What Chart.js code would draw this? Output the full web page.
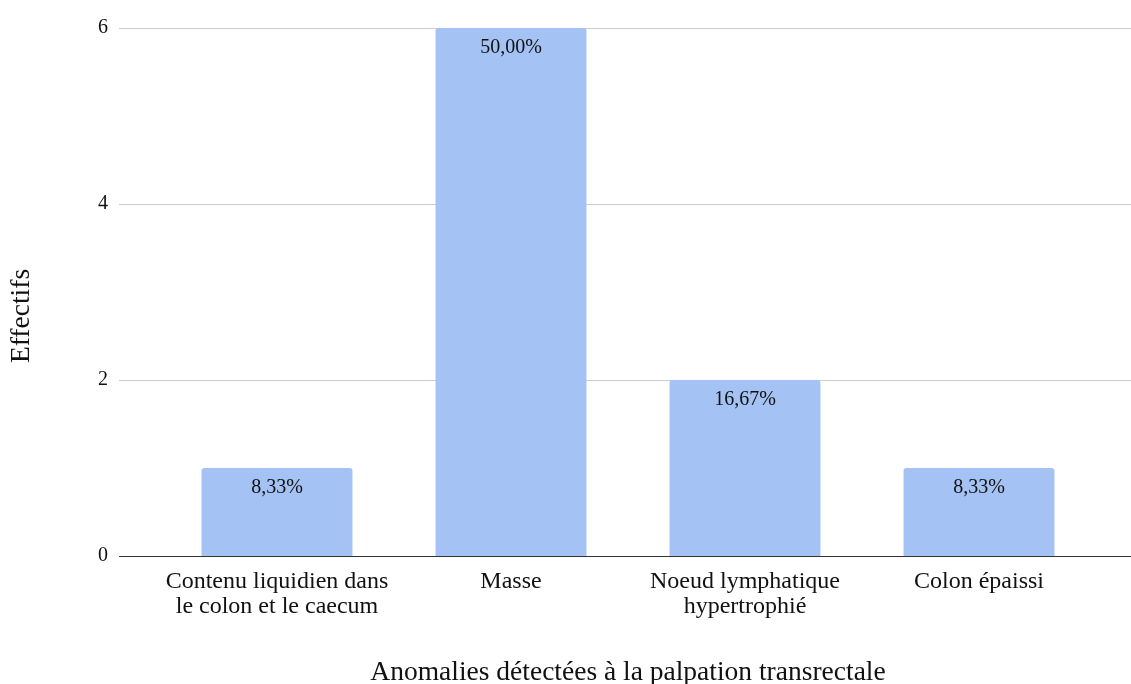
<!DOCTYPE html>
<html>
<head>
<meta charset="utf-8">
<script src="https://cdn.jsdelivr.net/npm/chart.js@4/dist/chart.umd.min.js"></script>
<style>
  html, body { margin: 0; padding: 0; background: #fff; }
  #wrap { width: 1131px; height: 684px; position: relative; }
</style>
</head>
<body>
<div id="wrap"><canvas id="c"></canvas></div>
<script>
// Anomalies found on transrectal palpation (counts and share of animals examined)
const categories = [
  ['Contenu liquidien dans', 'le colon et le caecum'],
  'Masse',
  ['Noeud lymphatique', 'hypertrophié'],
  'Colon épaissi'
];
const effectifs = [1, 6, 2, 1];
const pourcentages = [8.33, 50.00, 16.67, 8.33];
const yTicks = [0, 2, 4, 6];
const yTitle = 'Effectifs';
const xTitle = 'Anomalies détectées à la palpation transrectale';

const pctLabel = p => p.toFixed(2).replace('.', ',') + '%';

const FONT = '"Liberation Serif", "Times New Roman", serif';
const GRID = '#cccccc';
const AXIS = '#333333';
const GRID_LEFT = 119;

// Horizontal gridlines and baseline run past the plot area on both sides
const wideGrid = {
  id: 'wideGrid',
  beforeDatasetsDraw(chart) {
    const { ctx, scales: { y } } = chart;
    ctx.save();
    ctx.lineWidth = 1;
    yTicks.forEach(t => {
      if (t === 0) return;
      const py = Math.round(y.getPixelForValue(t)) + 0.5;
      ctx.beginPath();
      ctx.strokeStyle = GRID;
      ctx.moveTo(GRID_LEFT, py);
      ctx.lineTo(chart.width, py);
      ctx.stroke();
    });
    ctx.restore();
  },
  afterDatasetsDraw(chart) {
    const { ctx, scales: { y } } = chart;
    const py = Math.round(y.getPixelForValue(0)) + 0.5;
    ctx.save();
    ctx.beginPath();
    ctx.strokeStyle = AXIS;
    ctx.lineWidth = 1;
    ctx.moveTo(GRID_LEFT, py);
    ctx.lineTo(chart.width, py);
    ctx.stroke();
    ctx.restore();
  }
};

// Percentage written inside the top of each bar
const barLabels = {
  id: 'barLabels',
  afterDatasetsDraw(chart) {
    const { ctx } = chart;
    const meta = chart.getDatasetMeta(0);
    ctx.save();
    ctx.font = '20px ' + FONT;
    ctx.fillStyle = '#111111';
    ctx.textAlign = 'center';
    ctx.textBaseline = 'alphabetic';
    meta.data.forEach((bar, i) => {
      ctx.fillText(pctLabel(pourcentages[i]), bar.x, bar.y + 25);
    });
    ctx.restore();
  }
};

// Vertical axis title, centred a little below the plot's middle
const sideTitle = {
  id: 'sideTitle',
  afterDraw(chart) {
    const { ctx } = chart;
    ctx.save();
    ctx.translate(22, 316);
    ctx.rotate(-Math.PI / 2);
    ctx.font = '27.5px ' + FONT;
    ctx.fillStyle = '#111111';
    ctx.textAlign = 'center';
    ctx.textBaseline = 'middle';
    ctx.fillText(yTitle, 0, 0);
    ctx.restore();
  }
};

new Chart(document.getElementById('c'), {
  type: 'bar',
  data: {
    labels: categories,
    datasets: [{
      data: effectifs,
      backgroundColor: '#a4c2f4',
      borderRadius: { topLeft: 3, topRight: 3 },
      borderSkipped: 'bottom',
      categoryPercentage: 0.645,
      barPercentage: 1
    }]
  },
  options: {
    responsive: true,
    maintainAspectRatio: false,
    animation: false,
    devicePixelRatio: 1,
    layout: { padding: { top: 28, right: 35, left: 0, bottom: 0 } },
    plugins: {
      legend: { display: false },
      tooltip: { enabled: false }
    },
    scales: {
      x: {
        grid: { display: false, drawTicks: false },
        border: { display: false },
        afterFit(scale) { scale.height = 128; },
        ticks: {
          color: '#111111',
          font: { family: FONT, size: 24, lineHeight: 1.04 },
          padding: 13,
          maxRotation: 0,
          autoSkip: false
        },
        title: {
          display: true,
          text: xTitle,
          color: '#111111',
          font: { family: FONT, size: 27.5, lineHeight: 0.78 },
          padding: { top: 0, bottom: 0 }
        }
      },
      y: {
        min: 0,
        max: 6,
        grid: { display: false, drawTicks: false },
        border: { display: false },
        afterFit(scale) {
          scale.width = 160;
          scale.paddingTop = 0;
          scale.paddingBottom = 0;
        },
        ticks: {
          stepSize: 2,
          color: '#111111',
          font: { family: FONT, size: 20 },
          padding: 52
        },
        title: { display: false }
      }
    }
  },
  plugins: [wideGrid, barLabels, sideTitle]
});
</script>
</body>
</html>
